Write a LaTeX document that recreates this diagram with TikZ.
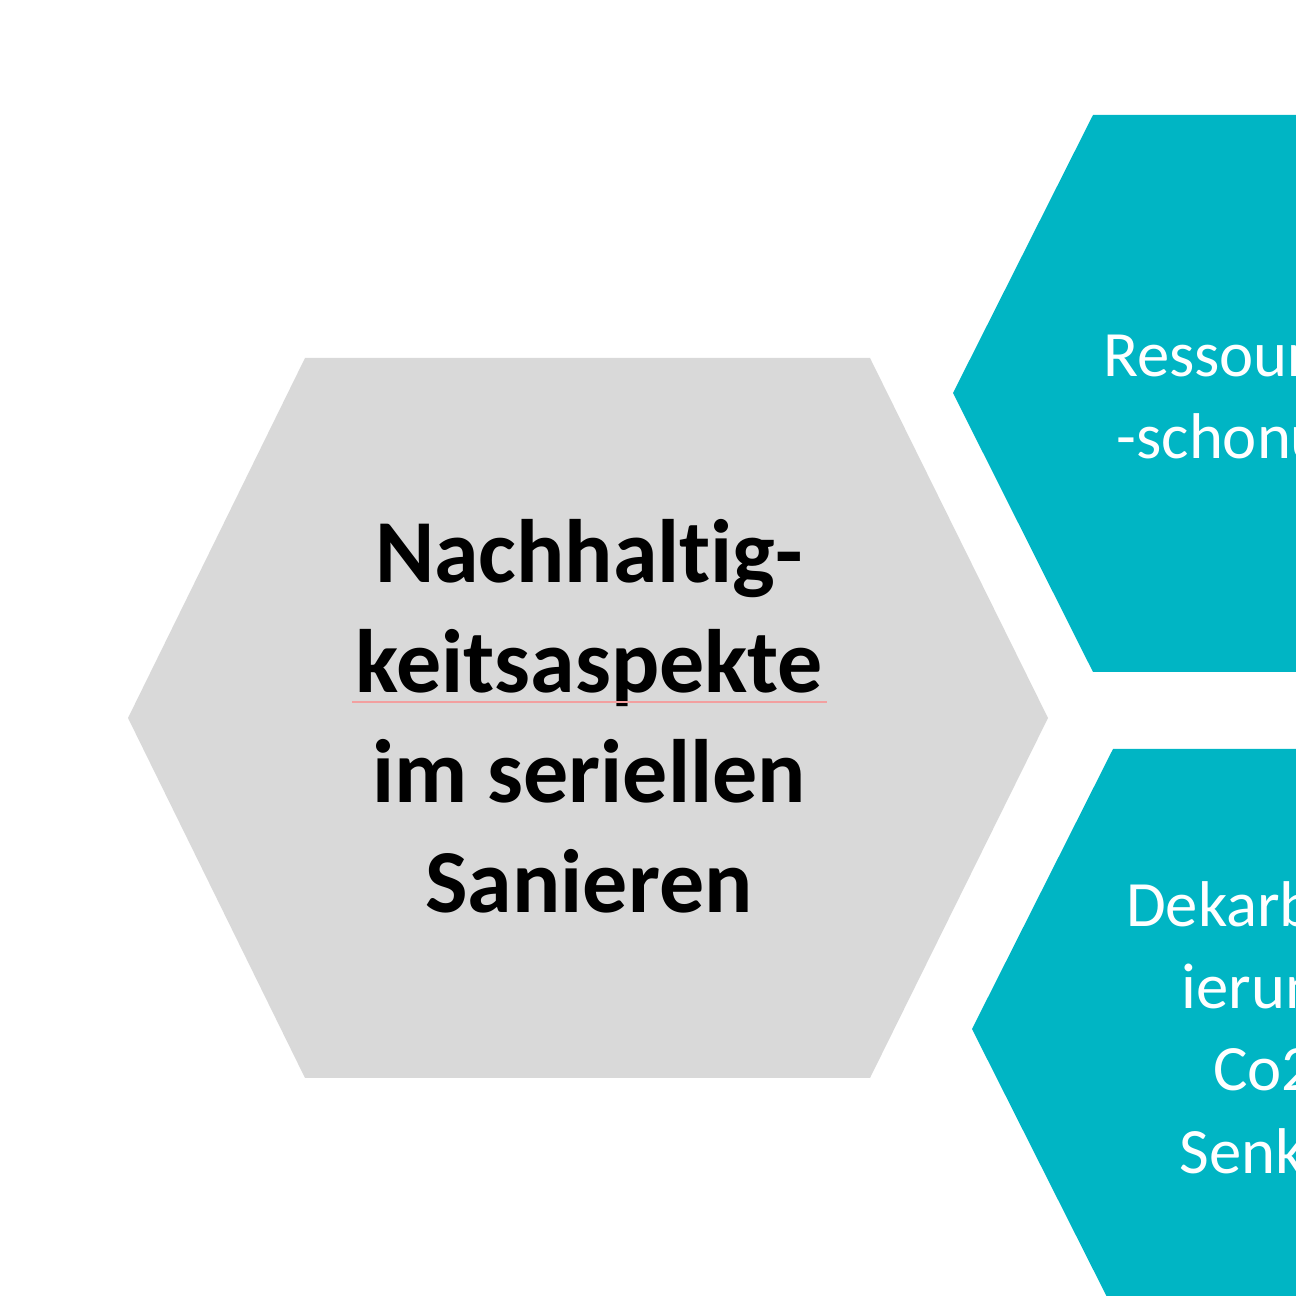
\documentclass[tikz,border=0pt]{standalone}
\usepackage{fontspec}
\setmainfont{Carlito}[Ligatures=NoCommon]
\definecolor{hexgray}{HTML}{D9D9D9}
\definecolor{hexteal}{HTML}{00B5C4}
\definecolor{spellred}{HTML}{F2A0A0}
\begin{document}
\begin{tikzpicture}[
    grayhex/.style={fill=hexgray},
    tealhex/.style={fill=hexteal},
    graytext/.style={align=center, text=black, font=\fontsize{25.6}{31.3}\selectfont\bfseries},
    tealtext/.style={align=center, text=white, font=\fontsize{18.4}{23.4}\selectfont}
]
        \useasboundingbox (0,0) rectangle (12.96,12.96);
        \clip (0,0) rectangle (12.96,12.96);

        \fill [grayhex] (1.28,5.78) -- (3.05,9.38) -- (8.70,9.38) -- (10.48,5.78) -- (8.70,2.18) -- (3.05,2.18) -- cycle;
        \fill [tealhex] (9.53,9.03) -- (10.93,11.81) -- (15.23,11.81) -- (16.63,9.03) -- (15.23,6.24) -- (10.93,6.24) -- cycle;
        \fill [tealhex] (9.72,2.67) -- (11.13,5.47) -- (15.43,5.47) -- (16.84,2.67) -- (15.43,-0.13) -- (11.13,-0.13) -- cycle;

        \node [graytext] (nachhaltig) at (5.89,5.80) {Nachhaltig-\\keitsaspekte\\im seriellen\\Sanieren};
        \node [tealtext] (ressourcen) at (12.53,8.94) {Ressourcen\\-schonung};
        \node [tealtext] (dekarb) at (12.74,2.685) {Dekarbonis\\ierung,\\Co2-\\Senken};

        \draw [spellred, line width=0.8pt] (3.52,5.94) -- (8.27,5.94);
\end{tikzpicture}
\end{document}
